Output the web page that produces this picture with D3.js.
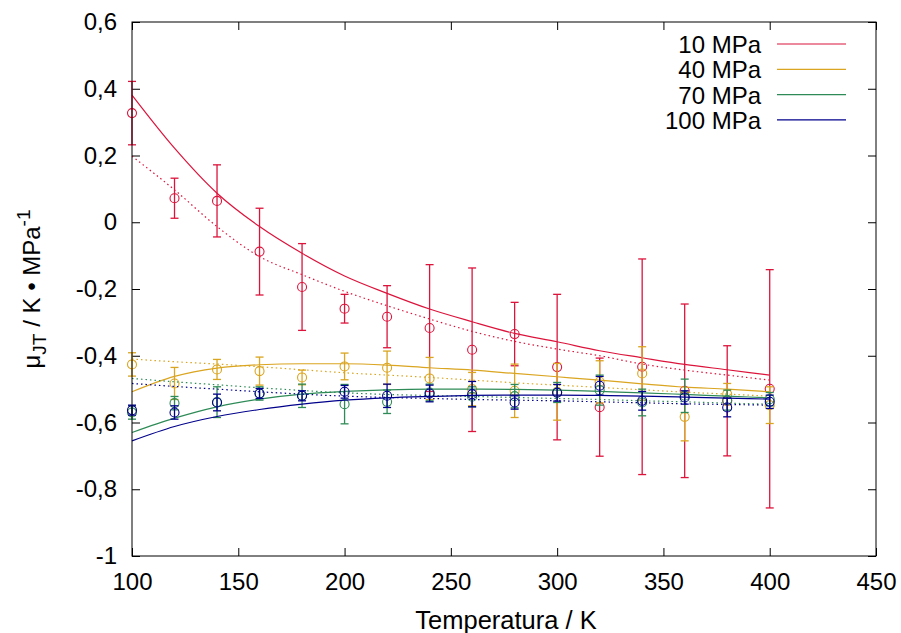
<!DOCTYPE html>
<html>
<head>
<meta charset="utf-8">
<script src="https://cdn.jsdelivr.net/npm/d3@7"></script>
<style>
  body { margin: 0; background: #fff; }
  svg text { font-family: "Liberation Sans", Arial, sans-serif; font-size: 24px; fill: #000; }
</style>
</head>
<body>
<div id="graphe"></div>
<script>
//----------------------------------------------------------------
//  Données
//----------------------------------------------------------------
var temperatures = [100, 120, 140, 160, 180, 200, 220, 240, 260, 280, 300, 320, 340, 360, 380, 400];

var pressions = ["10 MPa", "40 MPa", "70 MPa", "100 MPa"];
var couleurs = ["#dc143c", "#daa520", "#2e8b57", "#00008b"];

// points simulés (mu_JT) et barres d'erreur
var mu10  = [0.327, 0.072, 0.064, -0.088, -0.194, -0.259, -0.283, -0.317, -0.382, -0.335, -0.434, -0.554, -0.433, -0.505, -0.535, -0.499];
var err10 = [0.095, 0.060, 0.108, 0.130, 0.130, 0.043, 0.093, 0.190, 0.245, 0.095, 0.218, 0.147, 0.323, 0.260, 0.165, 0.357];

var mu40  = [-0.426, -0.483, -0.441, -0.446, -0.465, -0.432, -0.436, -0.468, -0.500, -0.505, -0.508, -0.478, -0.453, -0.583, -0.515, -0.548];
var err40 = [0.035, 0.048, 0.030, 0.042, 0.022, 0.040, 0.050, 0.063, 0.050, 0.080, 0.085, 0.063, 0.080, 0.072, 0.032, 0.055];

var mu70  = [-0.570, -0.542, -0.539, -0.513, -0.520, -0.545, -0.538, -0.510, -0.523, -0.521, -0.510, -0.503, -0.540, -0.520, -0.533, -0.530];
var err70 = [0.020, 0.020, 0.046, 0.020, 0.035, 0.059, 0.035, 0.025, 0.030, 0.035, 0.030, 0.045, 0.040, 0.050, 0.030, 0.020];

var mu100  = [-0.563, -0.570, -0.540, -0.513, -0.520, -0.508, -0.520, -0.513, -0.515, -0.540, -0.511, -0.490, -0.535, -0.525, -0.555, -0.538];
var err100 = [0.015, 0.020, 0.025, 0.015, 0.015, 0.019, 0.035, 0.025, 0.038, 0.020, 0.025, 0.028, 0.028, 0.020, 0.028, 0.020];

// courbes continues (trait plein), relevées aux mêmes températures
var courbe10  = [0.381, 0.222, 0.087, -0.013, -0.093, -0.161, -0.213, -0.260, -0.298, -0.333, -0.358, -0.385, -0.406, -0.426, -0.442, -0.458];
var courbe40  = [-0.508, -0.462, -0.437, -0.427, -0.424, -0.424, -0.428, -0.436, -0.443, -0.453, -0.463, -0.473, -0.484, -0.494, -0.500, -0.508];
var courbe70  = [-0.630, -0.587, -0.553, -0.530, -0.515, -0.507, -0.502, -0.500, -0.500, -0.501, -0.503, -0.507, -0.511, -0.516, -0.521, -0.526];
var courbe100 = [-0.655, -0.612, -0.582, -0.561, -0.545, -0.533, -0.526, -0.522, -0.519, -0.518, -0.518, -0.519, -0.521, -0.524, -0.527, -0.530];

// courbes pointillées
var pointille10  = [0.198, 0.097, -0.013, -0.103, -0.157, -0.207, -0.250, -0.290, -0.327, -0.357, -0.380, -0.400, -0.425, -0.443, -0.458, -0.473];
var pointille40  = [-0.410, -0.418, -0.425, -0.433, -0.442, -0.451, -0.458, -0.465, -0.473, -0.481, -0.488, -0.495, -0.502, -0.509, -0.515, -0.521];
var pointille70  = [-0.468, -0.478, -0.487, -0.496, -0.504, -0.511, -0.516, -0.519, -0.522, -0.525, -0.528, -0.531, -0.535, -0.538, -0.542, -0.545];
var pointille100 = [-0.483, -0.492, -0.500, -0.508, -0.515, -0.521, -0.525, -0.528, -0.531, -0.533, -0.535, -0.538, -0.541, -0.544, -0.546, -0.548];

// graduations
var ticksX = [100, 150, 200, 250, 300, 350, 400, 450];
var ticksY = [-1, -0.8, -0.6, -0.4, -0.2, 0, 0.2, 0.4, 0.6];

//----------------------------------------------------------------
//  Création du svg
//----------------------------------------------------------------
var largeurSvg = 901, hauteurSvg = 633;
var marges = {haut: 22, droite: 25, bas: 77, gauche: 132},
    largeur = largeurSvg - marges.gauche - marges.droite,
    hauteur = hauteurSvg - marges.haut - marges.bas;

var svg = d3.select("#graphe")
    .append("svg")
    .attr("width", largeurSvg)
    .attr("height", hauteurSvg);
var g = svg.append("g")
    .attr("transform", "translate(" + marges.gauche + "," + marges.haut + ")");

var x = d3.scaleLinear().domain([100, 450]).range([0, largeur]);
var y = d3.scaleLinear().domain([-1, 0.6]).range([hauteur, 0]);

// virgule décimale
var locale = d3.formatLocale({decimal: ",", thousands: ".", grouping: [3], currency: ["", ""], minus: "-"});
var fmt = locale.format("~g");

//----------------------------------------------------------------
//  Axes (graduations vers l'intérieur, sur les 4 côtés)
//----------------------------------------------------------------
g.append("g")
    .attr("transform", "translate(0," + hauteur + ")")
    .call(d3.axisBottom(x).tickValues(ticksX).tickSize(-8).tickSizeOuter(0).tickPadding(17).tickFormat(d3.format("d")));
g.append("g")
    .call(d3.axisTop(x).tickValues(ticksX).tickSize(-8).tickSizeOuter(0).tickFormat(""));
g.append("g")
    .call(d3.axisLeft(y).tickValues(ticksY).tickSize(-8).tickSizeOuter(0).tickPadding(15).tickFormat(function(d) { return fmt(+d.toFixed(1)); }));
g.append("g")
    .attr("transform", "translate(" + largeur + ",0)")
    .call(d3.axisRight(y).tickValues(ticksY).tickSize(-8).tickSizeOuter(0).tickFormat(""));

g.selectAll(".domain").remove();
g.selectAll(".tick line").attr("stroke", "#000").attr("stroke-width", 1);
g.selectAll("g").attr("font-size", null).attr("font-family", null);

//----------------------------------------------------------------
//  Séries : barres d'erreur, cercles, courbes
//----------------------------------------------------------------
var series = [
    {mu: mu10,  err: err10,  courbe: courbe10,  pointille: pointille10},
    {mu: mu40,  err: err40,  courbe: courbe40,  pointille: pointille40},
    {mu: mu70,  err: err70,  courbe: courbe70,  pointille: pointille70},
    {mu: mu100, err: err100, courbe: courbe100, pointille: pointille100}
];

var ligne = d3.line()
    .x(function(d) { return x(d[0]); })
    .y(function(d) { return y(d[1]); })
    .curve(d3.curveMonotoneX);

var demiCap = 4;

series.forEach(function(s, i) {
    var c = couleurs[i];
    var pts = temperatures.map(function(t, k) { return {t: t, v: s.mu[k], e: s.err[k]}; });
    var sec = g.append("g").attr("stroke", c).attr("fill", "none");

    // barres d'erreur
    var eb = sec.selectAll(".eb").data(pts).enter().append("g");
    eb.append("line")
        .attr("x1", function(d) { return x(d.t); })
        .attr("x2", function(d) { return x(d.t); })
        .attr("y1", function(d) { return y(d.v - d.e); })
        .attr("y2", function(d) { return y(d.v + d.e); })
        .attr("stroke-width", 1.3);
    eb.append("line")
        .attr("x1", function(d) { return x(d.t) - demiCap; })
        .attr("x2", function(d) { return x(d.t) + demiCap; })
        .attr("y1", function(d) { return y(d.v + d.e); })
        .attr("y2", function(d) { return y(d.v + d.e); })
        .attr("stroke-width", 1.3);
    eb.append("line")
        .attr("x1", function(d) { return x(d.t) - demiCap; })
        .attr("x2", function(d) { return x(d.t) + demiCap; })
        .attr("y1", function(d) { return y(d.v - d.e); })
        .attr("y2", function(d) { return y(d.v - d.e); })
        .attr("stroke-width", 1.3);

    // cercles
    sec.selectAll("circle").data(pts).enter().append("circle")
        .attr("cx", function(d) { return x(d.t); })
        .attr("cy", function(d) { return y(d.v); })
        .attr("r", 4.5)
        .attr("stroke-width", 1.1);

    // trait plein
    sec.append("path")
        .attr("d", ligne(temperatures.map(function(t, k) { return [t, s.courbe[k]]; })))
        .attr("stroke-width", 1.2);

    // pointillé
    sec.append("path")
        .attr("d", ligne(temperatures.map(function(t, k) { return [t, s.pointille[k]]; })))
        .attr("stroke-width", 1.2)
        .attr("stroke-dasharray", "1.5,3");
});

// cadre
g.append("rect")
    .attr("width", largeur)
    .attr("height", hauteur)
    .attr("fill", "none")
    .attr("stroke", "#000")
    .attr("stroke-width", 1);

//----------------------------------------------------------------
//  Légende
//----------------------------------------------------------------
pressions.forEach(function(p, i) {
    var yl = 44 + i * 25.3;
    svg.append("text")
        .attr("x", 761)
        .attr("y", yl + 9)
        .attr("text-anchor", "end")
        .text(p);
    svg.append("line")
        .attr("x1", 777).attr("x2", 846)
        .attr("y1", yl).attr("y2", yl)
        .attr("stroke", couleurs[i])
        .attr("stroke-width", 1.2);
});

//----------------------------------------------------------------
//  Titres des axes
//----------------------------------------------------------------
svg.append("text")
    .attr("x", 506)
    .attr("y", 629)
    .attr("text-anchor", "middle")
    .style("font-size", "25.5px")
    .text("Temperatura / K");

var titreY = svg.append("text")
    .attr("transform", "translate(40," + (marges.haut + hauteur / 2) + ") rotate(-90)")
    .attr("text-anchor", "middle");
titreY.append("tspan").text("μ");
titreY.append("tspan").attr("dy", 6).style("font-size", "19px").text("JT");
titreY.append("tspan").attr("dy", -6).text(" / K • MPa");
titreY.append("tspan").attr("dy", -10).style("font-size", "19px").text("-1");
</script>
</body>
</html>
